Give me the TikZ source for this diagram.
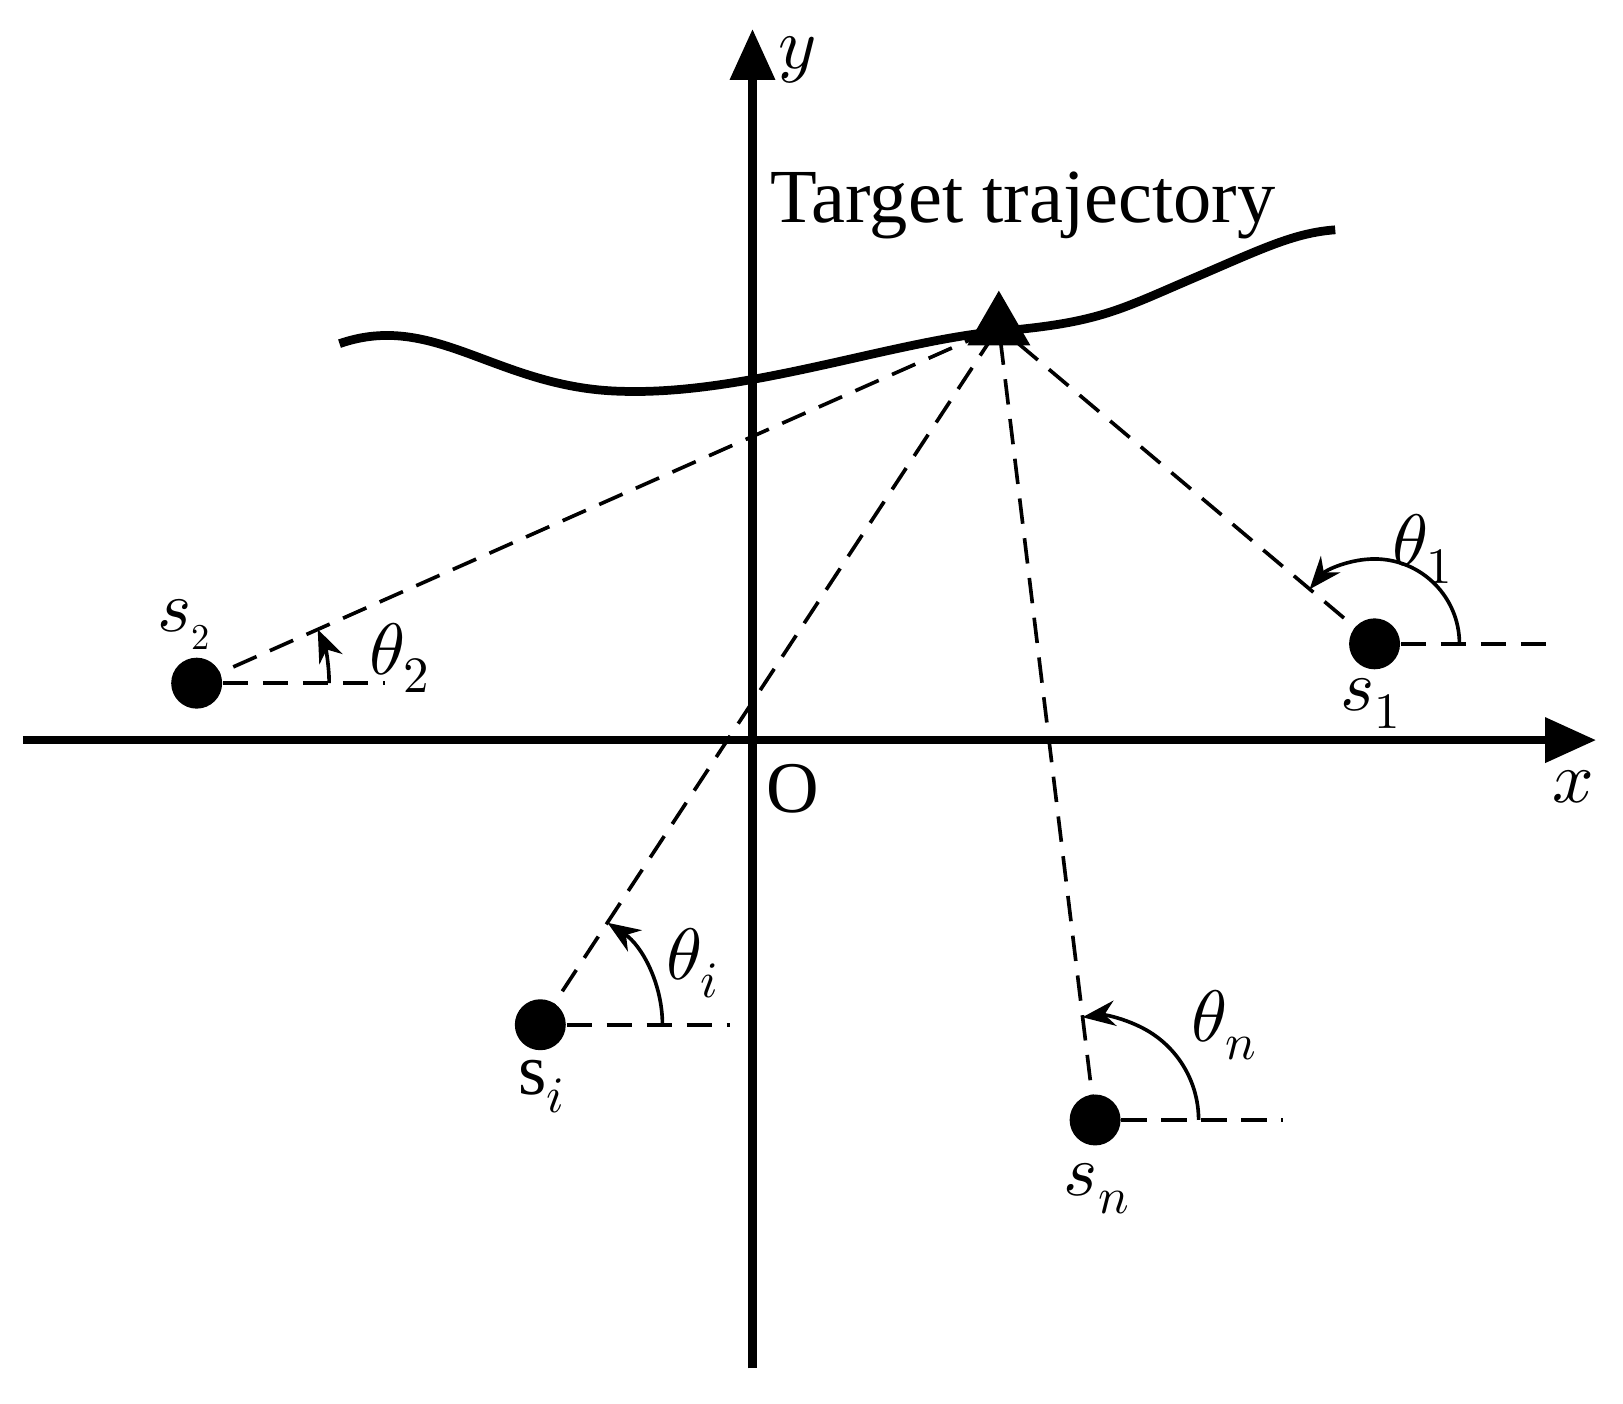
\documentclass[tikz,border=0pt]{standalone}
\usepackage{fontspec}
\setmainfont{Liberation Serif}
\usepackage{unicode-math}
\setmathfont{Latin Modern Math}
\usetikzlibrary{arrows.meta,shapes.geometric}
\begin{document}
\begin{tikzpicture}[x=0.01cm,y=-0.01cm,
  ax/.style={line width=2.2pt,-{Triangle[length=14pt,width=12pt]}},
  dsh/.style={line width=1pt,dash pattern=on 7pt off 4pt},
  ang/.style={line width=1pt,-{Stealth[length=9pt,width=7pt]}},
  sen/.style={circle,fill=black,inner sep=0pt,minimum size=14pt},
  lbl/.style={font=\fontsize{20}{24}\selectfont}]
\useasboundingbox (0,0) rectangle (1568,1356);
\coordinate (O) at (727,715);
\coordinate (xl) at (22,715); \coordinate (xr) at (1542,715);
\coordinate (yb) at (727,1322); \coordinate (yt) at (727,28);
\draw[ax] (xl) -- (xr);
\draw[ax] (yb) -- (yt);
\node[lbl] (xlab) at (1520,760) {$\boldsymbol{x}$};
\node[lbl] (ylab) at (770,58) {$\boldsymbol{y}$};
\node[lbl] (olab) at (766,762) {O};
\draw[line width=2.4pt] (328,332) .. controls (420,300) and (480,375) .. (600,378)
  .. controls (720,382) and (860,330) .. (965,320)
  .. controls (1060,312) and (1080,300) .. (1150,270)
  .. controls (1220,240) and (1250,225) .. (1290,222);
\node[lbl,anchor=west] (tt) at (732,198) {\fontsize{21}{24}\selectfont Target trajectory};
\node[regular polygon,regular polygon sides=3,fill=black,inner sep=0pt,minimum size=20pt] (T) at (965,316) {};
\node[sen] (s1) at (1328,622) {};
\node[sen] (s2) at (190,660) {};
\node[sen] (si) at (522,990) {};
\node[sen] (sn) at (1058,1082) {};
\draw[dsh] (s1.center) -- (T.center);
\draw[dsh] (s2.center) -- (T.center);
\draw[dsh] (si.center) -- (T.center);
\draw[dsh] (sn.center) -- (T.center);
\coordinate (h1) at (1505,622); \coordinate (h2) at (372,660);
\coordinate (hi) at (705,990); \coordinate (hn) at (1240,1082);
\draw[dsh] (s1) -- (h1); \draw[dsh] (s2) -- (h2);
\draw[dsh] (si) -- (hi); \draw[dsh] (sn) -- (hn);
\draw[ang] ([xshift=82*0.01cm]s1.center) arc[start angle=0,end angle=-140,radius=82];
\draw[ang] ([xshift=128*0.01cm]s2.center) arc[start angle=0,end angle=-24,radius=128];
\draw[ang] ([xshift=118*0.01cm]si.center) arc[start angle=0,end angle=-56.6,radius=118];
\draw[ang] ([xshift=100*0.01cm]sn.center) arc[start angle=0,end angle=-97,radius=100];
\node[lbl] (t1) at (1375,530) {$\theta_1$};
\node[lbl] (t2) at (387,636) {$\theta_2$};
\node[lbl] (ti) at (670,930) {$\theta_i$};
\node[lbl] (tn) at (1183,990) {$\theta_n$};
\node[lbl] (l1) at (1325,680) {$s_1$};
\node[lbl] (l2) at (178,603) {$s_{\scriptscriptstyle 2}$};
\node[lbl] (li) at (524,1050) {$\mathrm{s}_i$};
\node[lbl] (ln) at (1060,1148) {$s_n$};
\end{tikzpicture}
\end{document}
